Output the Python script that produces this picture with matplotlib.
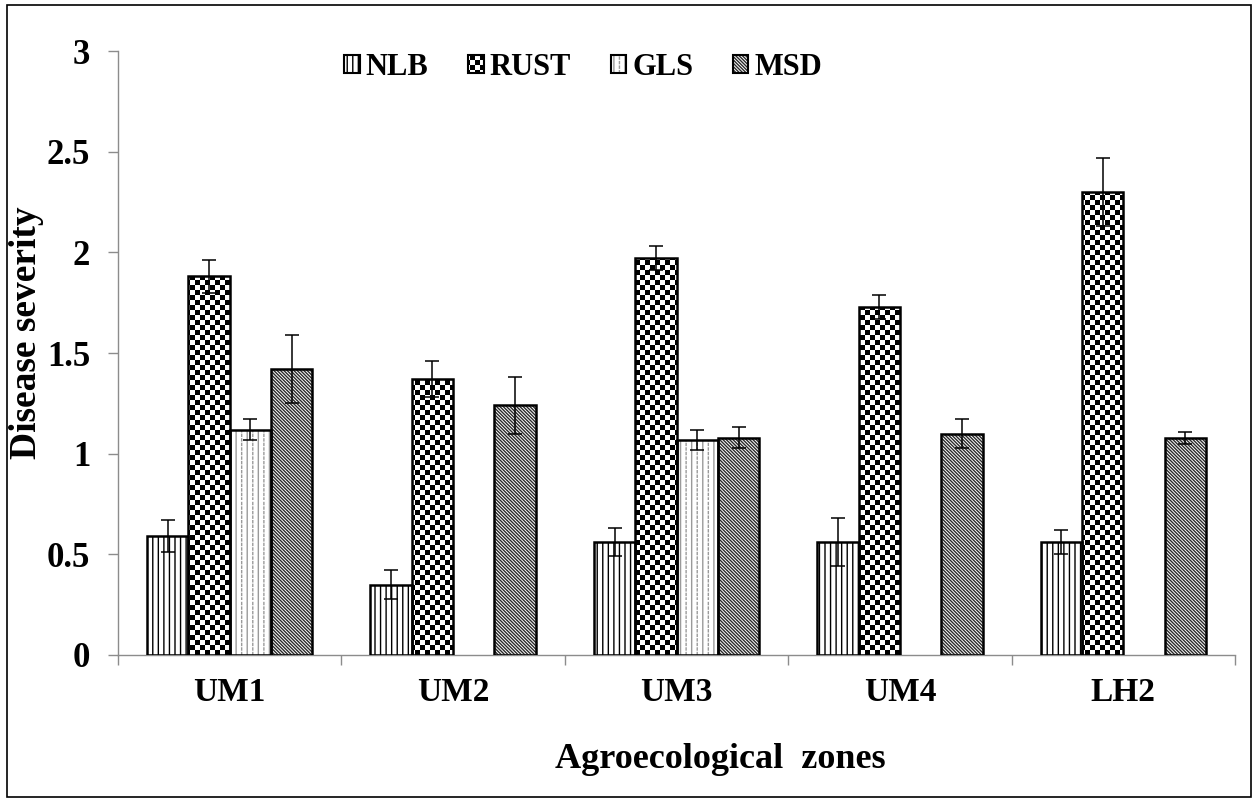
import numpy as np
import matplotlib
matplotlib.use("Agg")
import matplotlib.pyplot as plt
import matplotlib.hatch as mhatch
import matplotlib.patches as mpatches
from matplotlib.path import Path

# ---------------- data ----------------
zones = ["UM1", "UM2", "UM3", "UM4", "LH2"]
series = ["NLB", "RUST", "GLS", "MSD"]
nlb = [0.59, 0.35, 0.56, 0.56, 0.56]
rust = [1.88, 1.37, 1.97, 1.73, 2.30]
gls = [1.12, np.nan, 1.07, np.nan, np.nan]
msd = [1.42, 1.24, 1.08, 1.10, 1.08]
nlb_err = [0.08, 0.07, 0.07, 0.12, 0.06]
rust_err = [0.08, 0.09, 0.06, 0.06, 0.17]
gls_err = [0.05, np.nan, 0.05, np.nan, np.nan]
msd_err = [0.17, 0.14, 0.05, 0.07, 0.03]
yticks = [0, 0.5, 1, 1.5, 2, 2.5, 3]
ytick_labels = ["0", "0.5", "1", "1.5", "2", "2.5", "3"]


# ---------------- custom hatches ----------------
class CheckerHatch(mhatch.HatchPatternBase):
    """'o' -> checkerboard of filled squares."""
    def __init__(self, hatch, density):
        self.n = hatch.count('o') * 4
        if self.n % 2:
            self.n += 1
        self.num_vertices = (self.n * self.n // 2) * 5

    def set_vertices_and_codes(self, vertices, codes):
        n = self.n
        s = 1.0 / n
        shrink = matplotlib.rcParams['hatch.linewidth'] / 72.0 * 0.5
        i = 0
        for r in range(n):
            for c in range(n):
                if (r + c) % 2 == 0:
                    x0, y0 = c * s + shrink, r * s + shrink
                    x1, y1 = (c + 1) * s - shrink, (r + 1) * s - shrink
                    vertices[i:i + 5] = [(x0, y0), (x1, y0), (x1, y1), (x0, y1), (x0, y0)]
                    codes[i:i + 5] = [Path.MOVETO, Path.LINETO, Path.LINETO,
                                      Path.LINETO, Path.CLOSEPOLY]
                    i += 5


class DashedVerticalHatch(mhatch.HatchPatternBase):
    """'O' -> solid vertical lines with dashed lines between them."""
    def __init__(self, hatch, density):
        self.k = hatch.count('O') * 3
        self.m = 22
        if self.k:
            self.num_vertices = self.k * 2 + self.k * self.m * 2
        else:
            self.num_vertices = 0

    def set_vertices_and_codes(self, vertices, codes):
        k, m = self.k, self.m
        i = 0
        for j in range(k):
            x = (j + 0.25) / k
            vertices[i:i + 2] = [(x, 0.0), (x, 1.0)]
            codes[i:i + 2] = [Path.MOVETO, Path.LINETO]
            i += 2
        for j in range(k):
            x = (j + 0.75) / k
            for d in range(m):
                y0 = d / m
                vertices[i:i + 2] = [(x, y0), (x, y0 + 0.45 / m)]
                codes[i:i + 2] = [Path.MOVETO, Path.LINETO]
                i += 2


mhatch._hatch_types = [mhatch.HorizontalHatch, mhatch.VerticalHatch,
                       mhatch.NorthEastHatch, mhatch.SouthEastHatch,
                       CheckerHatch, DashedVerticalHatch,
                       mhatch.SmallFilledCircles, mhatch.Stars]

plt.rcParams['hatch.linewidth'] = 1.0
plt.rcParams['font.family'] = ['Liberation Serif', 'DejaVu Serif']
plt.rcParams['font.weight'] = 'bold'

hatches = ['|||', 'ooooo', 'OOO', '\\' * 10]
hatch_colors = ['black', 'black', '#9a9a9a', '#2a2a2a']

fig = plt.figure(figsize=(12.57, 8.01), dpi=100)
ax = fig.add_axes([0.0939, 0.1823, 0.8886, 0.7540])

x = np.arange(len(zones))
w = 0.185
offsets = [-1.5, -0.5, 0.5, 1.5]
values = [nlb, rust, gls, msd]
errors = [nlb_err, rust_err, gls_err, msd_err]

handles = []
for s in range(4):
    vals = np.array(values[s], dtype=float)
    errs = np.array(errors[s], dtype=float)
    ok = ~np.isnan(vals)
    xs = x[ok] + offsets[s] * w
    ax.bar(xs, vals[ok], width=w, color='white', edgecolor=hatch_colors[s],
           hatch=hatches[s], linewidth=0, zorder=2)
    ax.bar(xs, vals[ok], width=w, fill=False, edgecolor='black',
           linewidth=1.8, zorder=3)
    ax.errorbar(xs, vals[ok], yerr=errs[ok], fmt='none', ecolor='black',
                elinewidth=1.1, capsize=5, capthick=1.1, zorder=4)
    h1 = mpatches.Patch(facecolor='white', edgecolor=hatch_colors[s],
                        hatch=hatches[s], linewidth=0)
    h2 = mpatches.Patch(fill=False, edgecolor='black', linewidth=1.5)
    handles.append((h1, h2))

ax.set_xlim(-0.5, len(zones) - 0.5)
ax.set_ylim(0, 3)

axis_gray = '#8c8c8c'
for side in ['top', 'right']:
    ax.spines[side].set_visible(False)
for side in ['left', 'bottom']:
    ax.spines[side].set_color(axis_gray)
    ax.spines[side].set_linewidth(1.0)

ax.set_yticks(yticks)
ax.set_yticklabels(ytick_labels)
ax.tick_params(axis='y', direction='out', length=7, width=1.0, color=axis_gray,
               pad=13, labelsize=25)

ax.set_xticks(np.arange(len(zones) + 1) - 0.5)
ax.set_xticklabels([])
ax.set_xticks(x, minor=True)
ax.set_xticklabels(zones, minor=True)
ax.tick_params(axis='x', which='major', direction='out', length=7, width=1.0,
               color=axis_gray)
ax.tick_params(axis='x', which='minor', length=0, pad=16, labelsize=24)

ax.set_xlabel("Agroecological  zones", fontsize=26, fontweight='bold')
ax.xaxis.set_label_coords(0.539, -0.146)
ax.set_ylabel("Disease severity", fontsize=27, fontweight='bold')
ax.yaxis.set_label_coords(-0.066, 0.533)

leg = fig.legend(handles, series, loc='center', bbox_to_anchor=(0.464, 0.916),
                 ncol=4, frameon=False, handlelength=0.5,
                 handleheight=0.5, handletextpad=0.2, columnspacing=1.3,
                 prop={'weight': 'bold', 'size': 22})

border = mpatches.Rectangle((0.0056, 0.005), 0.9896, 0.9888, transform=fig.transFigure,
                            fill=False, edgecolor='black', linewidth=1.2)
fig.patches.append(border)

fig.savefig("out.png", dpi=100)
